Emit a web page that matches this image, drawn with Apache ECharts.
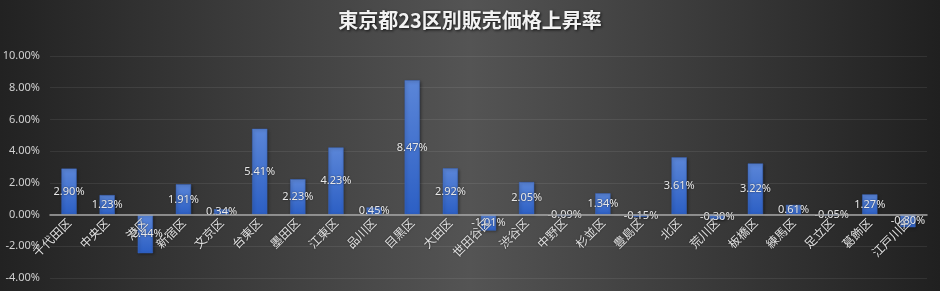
<!DOCTYPE html>
<html><head><meta charset="utf-8">
<script src="https://cdn.jsdelivr.net/npm/echarts@6/dist/echarts.min.js"></script>
<style>html,body{margin:0;padding:0;background:#333}#c{width:940px;height:291px}</style>
</head><body><div id="c"></div>
<script>
const title = '東京都23区別販売価格上昇率';
const categories = ['千代田区','中央区','港区','新宿区','文京区','台東区','墨田区','江東区','品川区','目黒区','大田区','世田谷区','渋谷区','中野区','杉並区','豊島区','北区','荒川区','板橋区','練馬区','足立区','葛飾区','江戸川区'];
const values = [2.90,1.23,-2.44,1.91,0.34,5.41,2.23,4.23,0.45,8.47,2.92,-1.01,2.05,-0.09,1.34,-0.15,3.61,-0.30,3.22,0.61,-0.05,1.27,-0.80];
const yMin = -4, yMax = 10, yStep = 2;

const chart = echarts.init(document.getElementById('c'), null, {renderer:'canvas'});
chart.setOption({
  animation:false,
  backgroundColor:{type:'linear',x:0,y:0,x2:1,y2:0,colorStops:[{offset:0,color:'#222222'},{offset:0.5,color:'#545454'},{offset:1,color:'#202020'}]},
  title:{text:title,left:'center',top:5,textStyle:{color:'#f2f2f2',fontSize:20,fontWeight:'bold',fontFamily:'Noto Sans CJK JP',textShadowColor:'rgba(0,0,0,0.8)',textShadowBlur:3,textShadowOffsetX:1,textShadowOffsetY:1}},
  grid:{left:50,right:13,top:56,bottom:13,containLabel:false,outerBoundsMode:'none'},
  xAxis:{type:'category',data:categories,z:5,
    axisLine:{onZero:false,lineStyle:{color:'#a6a6a6',width:1.5}},
    axisTick:{show:false},
    axisLabel:{rotate:45,color:'#e0e0e0',fontSize:12,fontFamily:'Noto Sans CJK JP',margin:6,interval:0,textShadowColor:'rgba(0,0,0,0.6)',textShadowBlur:2}},
  yAxis:{type:'value',min:yMin,max:yMax,interval:yStep,
    axisLine:{show:false},axisTick:{show:false},
    splitLine:{lineStyle:{color:'rgba(255,255,255,0.08)',width:1}},
    axisLabel:{color:'#d0d0d0',fontSize:11,fontFamily:'Noto Sans',margin:10,formatter:v=>v.toFixed(2)+'%'}},
  series:[{type:'bar',data:values,barWidth:'40%',
    itemStyle:{color:{type:'linear',x:0,y:0,x2:0,y2:1,colorStops:[{offset:0,color:'#5b86d8'},{offset:1,color:'#2c5fc4'}]},
      borderColor:'#3a66c0',borderWidth:0.5,shadowColor:'rgba(0,0,0,0.5)',shadowBlur:3,shadowOffsetX:1,shadowOffsetY:1},
    label:{show:true,position:'inside',color:'#e8e8e8',fontSize:11,fontFamily:'Noto Sans',formatter:p=>p.value.toFixed(2)+'%',textShadowColor:'rgba(0,0,0,0.6)',textShadowBlur:2}
  }]
});
// move the category axis (line + labels) to the zero line using the library's own scale
const zeroY = chart.convertToPixel({yAxisIndex:0}, 0);
const bottomY = chart.convertToPixel({yAxisIndex:0}, yMin);
chart.setOption({xAxis:{offset:-(bottomY - zeroY)}});
</script></body></html>
